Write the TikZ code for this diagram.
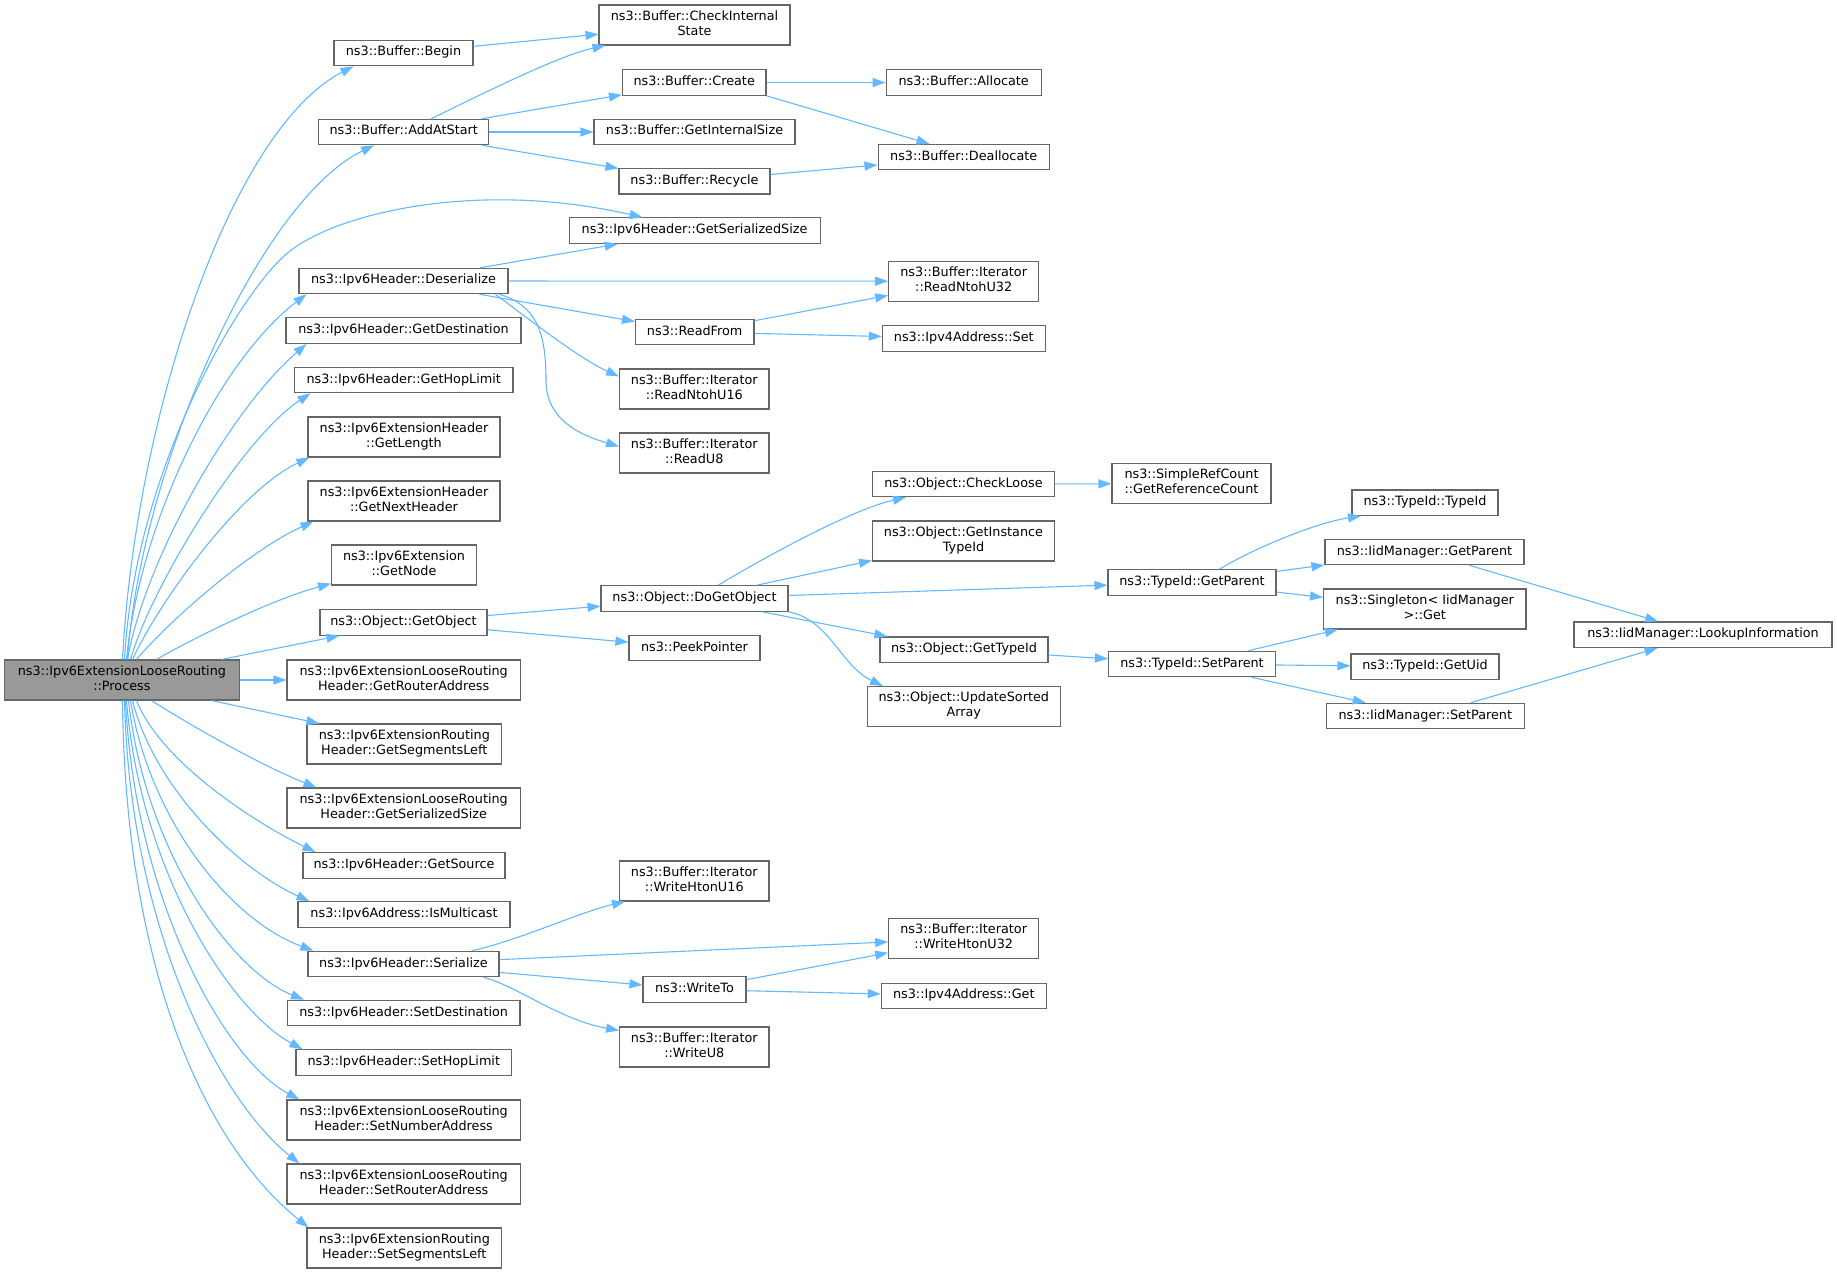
\documentclass[tikz,border=0pt]{standalone}
\usepackage{fontspec}
\setmainfont{DejaVu Sans}
\usetikzlibrary{arrows.meta}
\definecolor{edgeblue}{HTML}{63B8FF}
\definecolor{boxgray}{HTML}{666666}
\definecolor{procgray}{HTML}{999999}
\tikzset{
  box/.style={draw=boxgray, line width=1.1pt, fill=white, inner sep=0pt, align=center,
    font=\fontsize{12.8}{15}\selectfont, execute at begin node=\strut, execute at end node=\strut},
  edge/.style={draw=edgeblue, line width=1.1pt, -{Triangle[length=13pt,width=9pt]}},
  sz/.style 2 args={minimum width=#1pt, minimum height=#2pt}
}
\begin{document}
\begin{tikzpicture}[x=1pt,y=-1pt]
\useasboundingbox (0,0) rectangle (1837,1273);
% ---- nodes ----
\node[box, sz={234.3}{40}, fill=procgray] (proc) at (121.9,680) {ns3::Ipv6ExtensionLooseRouting\\::Process};
\node[box, sz={139}{25.5}] (begin) at (403.5,53) {ns3::Buffer::Begin};
\node[box, sz={191}{40}] (cis) at (694.5,25) {ns3::Buffer::CheckInternal\\State};
\node[box, sz={143.5}{25.5}] (create) at (694.2,82.5) {ns3::Buffer::Create};
\node[box, sz={170}{25.5}] (addat) at (403.7,132) {ns3::Buffer::AddAtStart};
\node[box, sz={201}{25.5}] (gis) at (694.5,132) {ns3::Buffer::GetInternalSize};
\node[box, sz={151}{25.5}] (recycle) at (694.5,181.3) {ns3::Buffer::Recycle};
\node[box, sz={251}{25.5}] (gss) at (694.6,230.7) {ns3::Ipv6Header::GetSerializedSize};
\node[box, sz={209}{25.5}] (deser) at (403.5,281) {ns3::Ipv6Header::Deserialize};
\node[box, sz={235}{25.5}] (gdest) at (403.5,330.7) {ns3::Ipv6Header::GetDestination};
\node[box, sz={218.5}{25.5}] (ghop) at (403.7,380) {ns3::Ipv6Header::GetHopLimit};
\node[box, sz={192}{40}] (glen) at (404,437) {ns3::Ipv6ExtensionHeader\\::GetLength};
\node[box, sz={192}{40}] (gnext) at (404,501) {ns3::Ipv6ExtensionHeader\\::GetNextHeader};
\node[box, sz={145}{40}] (gnode) at (404,565) {ns3::Ipv6Extension\\::GetNode};
\node[box, sz={167}{25.5}] (gobj) at (403.5,622.4) {ns3::Object::GetObject};
\node[box, sz={233.5}{40}] (graddr) at (403.7,680) {ns3::Ipv6ExtensionLooseRouting\\Header::GetRouterAddress};
\node[box, sz={194.7}{40}] (gseg) at (404.3,744) {ns3::Ipv6ExtensionRouting\\Header::GetSegmentsLeft};
\node[box, sz={233.5}{40}] (lgss) at (403.7,808) {ns3::Ipv6ExtensionLooseRouting\\Header::GetSerializedSize};
\node[box, sz={202}{25.5}] (gsrc) at (404,865.3) {ns3::Ipv6Header::GetSource};
\node[box, sz={212}{25.5}] (ismc) at (404,914.5) {ns3::Ipv6Address::IsMulticast};
\node[box, sz={191}{25.5}] (ser) at (403.5,964) {ns3::Ipv6Header::Serialize};
\node[box, sz={232.5}{25.5}] (sdest) at (403.7,1013) {ns3::Ipv6Header::SetDestination};
\node[box, sz={215.6}{25.5}] (shop) at (403.8,1062.5) {ns3::Ipv6Header::SetHopLimit};
\node[box, sz={233.5}{40}] (snum) at (403.7,1120) {ns3::Ipv6ExtensionLooseRouting\\Header::SetNumberAddress};
\node[box, sz={233.5}{40}] (srtr) at (403.7,1184) {ns3::Ipv6ExtensionLooseRouting\\Header::SetRouterAddress};
\node[box, sz={194.7}{40}] (sseg) at (404.3,1248) {ns3::Ipv6ExtensionRouting\\Header::SetSegmentsLeft};
% middle column
\node[box, sz={118.5}{25.5}] (readfrom) at (694.7,332) {ns3::ReadFrom};
\node[box, sz={149.4}{40}] (rn16) at (694.3,389) {ns3::Buffer::Iterator\\::ReadNtohU16};
\node[box, sz={149.4}{40}] (ru8) at (694.3,453) {ns3::Buffer::Iterator\\::ReadU8};
\node[box, sz={187}{25.5}] (dgo) at (694.5,598.5) {ns3::Object::DoGetObject};
\node[box, sz={131}{25.5}] (peek) at (694.5,648) {ns3::PeekPointer};
\node[box, sz={149.4}{40}] (wh16) at (694.3,881) {ns3::Buffer::Iterator\\::WriteHtonU16};
\node[box, sz={103}{25.5}] (writeto) at (694.5,989.5) {ns3::WriteTo};
\node[box, sz={149.4}{40}] (wu8) at (694.3,1047) {ns3::Buffer::Iterator\\::WriteU8};
% third column
\node[box, sz={155.3}{25.5}] (alloc) at (963.7,82.5) {ns3::Buffer::Allocate};
\node[box, sz={171.3}{25.5}] (dealloc) at (963.7,157.2) {ns3::Buffer::Deallocate};
\node[box, sz={150}{40}] (rn32) at (963.7,281.2) {ns3::Buffer::Iterator\\::ReadNtohU32};
\node[box, sz={163}{25.5}] (v4set) at (963.8,338.4) {ns3::Ipv4Address::Set};
\node[box, sz={182}{25.5}] (checkloose) at (963.5,484) {ns3::Object::CheckLoose};
\node[box, sz={182}{40}] (ginst) at (963.5,541) {ns3::Object::GetInstance\\TypeId};
\node[box, sz={168}{25.5}] (ogti) at (964,649.7) {ns3::Object::GetTypeId};
\node[box, sz={192.5}{40}] (usa) at (963.8,706.7) {ns3::Object::UpdateSorted\\Array};
\node[box, sz={150}{40}] (wh32) at (963.7,938.5) {ns3::Buffer::Iterator\\::WriteHtonU32};
\node[box, sz={165}{25.5}] (v4get) at (963.8,995.9) {ns3::Ipv4Address::Get};
% fourth column
\node[box, sz={159}{40}] (grc) at (1191.5,483.7) {ns3::SimpleRefCount\\::GetReferenceCount};
\node[box, sz={168}{25.5}] (tgp) at (1192,582.4) {ns3::TypeId::GetParent};
\node[box, sz={167}{25.5}] (tsp) at (1192,664) {ns3::TypeId::SetParent};
% fifth column
\node[box, sz={146}{25.5}] (ttid) at (1425,502.7) {ns3::TypeId::TypeId};
\node[box, sz={199}{25.5}] (igp) at (1424.5,552) {ns3::IidManager::GetParent};
\node[box, sz={202.4}{40}] (sget) at (1424.8,609) {ns3::Singleton< IidManager\\>::Get};
\node[box, sz={148}{25.5}] (guid) at (1425,666.7) {ns3::TypeId::GetUid};
\node[box, sz={197.5}{25.5}] (isp) at (1425.3,716) {ns3::IidManager::SetParent};
\node[box, sz={258}{25.5}] (lookup) at (1703,634.7) {ns3::IidManager::LookupInformation};
% ---- edges from Process (upper) ----
\draw[edge] ([xshift=118.3pt]proc.north west) .. controls (135,420) and (230,130) .. ([xshift=20pt]begin.south west);
\draw[edge] ([xshift=123.3pt]proc.north west) .. controls (140,470) and (260,200) .. ([xshift=56pt]addat.south west);
\draw[edge] ([xshift=120.3pt]proc.north west) .. controls (135,470) and (240,290) .. (290,251) .. controls (340,212) and (480,180) .. ([xshift=74pt]gss.north west);
\draw[edge] ([xshift=122.3pt]proc.north west) .. controls (140,520) and (220,360) .. ([xshift=8pt]deser.south west);
\draw[edge] ([xshift=123.3pt]proc.north west) .. controls (145,560) and (230,410) .. ([xshift=21pt]gdest.south west);
\draw[edge] ([xshift=126.3pt]proc.north west) .. controls (150,590) and (240,440) .. ([xshift=16.5pt]ghop.south west);
\draw[edge] ([xshift=128.3pt]proc.north west) .. controls (160,600) and (240,490) .. ([xshift=2pt]glen.south west);
\draw[edge] ([xshift=132.3pt]proc.north west) .. controls (170,620) and (250,550) .. ([xshift=6pt]gnext.south west);
\draw[edge] ([xshift=152.3pt]proc.north west) .. controls (190,640) and (270,600) .. ([yshift=2pt]gnode.south west);
\draw[edge] ([xshift=217.3pt]proc.north west) -- ([xshift=20pt]gobj.south west);
\draw[edge] (proc) -- (graddr);
% ---- edges from Process (lower) ----
\draw[edge] ([xshift=207.3pt]proc.south west) -- ([xshift=13pt]gseg.north west);
\draw[edge] ([xshift=147.3pt]proc.south west) .. controls (190,725) and (260,765) .. ([xshift=30pt]lgss.north west);
\draw[edge] ([xshift=132.3pt]proc.south west) .. controls (160,760) and (250,820) .. ([xshift=13pt]gsrc.north west);
\draw[edge] ([xshift=128.3pt]proc.south west) .. controls (155,790) and (240,870) .. ([xshift=12pt]ismc.north west);
\draw[edge] ([xshift=126.3pt]proc.south west) .. controls (150,820) and (230,920) .. ([xshift=6pt]ser.north west);
\draw[edge] ([xshift=124.3pt]proc.south west) .. controls (145,850) and (230,970) .. ([xshift=17pt]sdest.north west);
\draw[edge] ([xshift=122.3pt]proc.south west) .. controls (140,870) and (230,1010) .. ([xshift=7pt]shop.north west);
\draw[edge] ([xshift=121.3pt]proc.south west) .. controls (135,900) and (225,1060) .. ([xshift=13pt]snum.north west);
\draw[edge] ([xshift=120.3pt]proc.south west) .. controls (130,930) and (220,1100) .. ([xshift=13pt]srtr.north west);
\draw[edge] ([xshift=118.3pt]proc.south west) .. controls (125,960) and (200,1140) .. ([xshift=2pt]sseg.north west);
% ---- Buffer edges ----
\draw[edge] (begin) -- (cis);
\draw[edge] ([xshift=113pt]addat.north west) .. controls (480,95) and (560,55) .. ([xshift=7pt]cis.south west);
\draw[edge] (addat) -- (create);
\draw[edge] (addat) -- (gis);
\draw[edge] (addat) -- (recycle);
\draw[edge] (create) -- (alloc);
\draw[edge] (create.south east) -- ([xshift=52pt]dealloc.north west);
\draw[edge] (recycle) -- (dealloc);
% ---- Deserialize edges ----
\draw[edge] (deser) -- (gss);
\draw[edge] (deser) -- (rn32);
\draw[edge] (deser) -- (readfrom);
\draw[edge] ([xshift=197pt]deser.south west) .. controls (530,320) and (580,359) .. ([yshift=-8pt]rn16.north west);
\draw[edge] ([xshift=201pt]deser.south west) .. controls (535,305) and (546,330) .. (546,380) .. controls (546,420) and (580,435) .. ([yshift=-14pt]ru8.north west);
\draw[edge] (readfrom) -- (rn32);
\draw[edge] (readfrom) -- (v4set);
% ---- Object edges ----
\draw[edge] (gobj) -- (dgo);
\draw[edge] (gobj) -- (peek);
\draw[edge] ([xshift=117.8pt]dgo.north west) .. controls (760,560) and (850,510) .. ([xshift=34pt]checkloose.south west);
\draw[edge] (dgo) -- (ginst);
\draw[edge] (dgo) -- (tgp);
\draw[edge] (dgo) -- ([xshift=8pt]ogti.north west);
\draw[edge] (dgo.south east) .. controls (830,620) and (840,665) .. ([xshift=16pt]usa.north west);
\draw[edge] (checkloose) -- (grc);
\draw[edge] ([xshift=112pt]tgp.north west) .. controls (1260,545) and (1320,522) .. ([xshift=9.6pt]ttid.south west);
\draw[edge] (tgp) -- (igp);
\draw[edge] (tgp) -- (sget);
\draw[edge] (igp) -- (lookup);
\draw[edge] (ogti) -- (tsp);
\draw[edge] (tsp) -- (sget);
\draw[edge] (tsp) -- (guid);
\draw[edge] (tsp) -- (isp);
\draw[edge] (isp) -- (lookup);
% ---- Serialize edges ----
\draw[edge] ([xshift=164.4pt]ser.north west) .. controls (520,940) and (580,912) .. ([xshift=6pt]wh16.south west);
\draw[edge] (ser) -- (wh32);
\draw[edge] (ser) -- (writeto);
\draw[edge] ([xshift=176pt]ser.south west) .. controls (515,985) and (560,1020) .. ([yshift=-4pt]wu8.north west);
\draw[edge] (writeto) -- (wh32);
\draw[edge] (writeto) -- (v4get);
\end{tikzpicture}
\end{document}
